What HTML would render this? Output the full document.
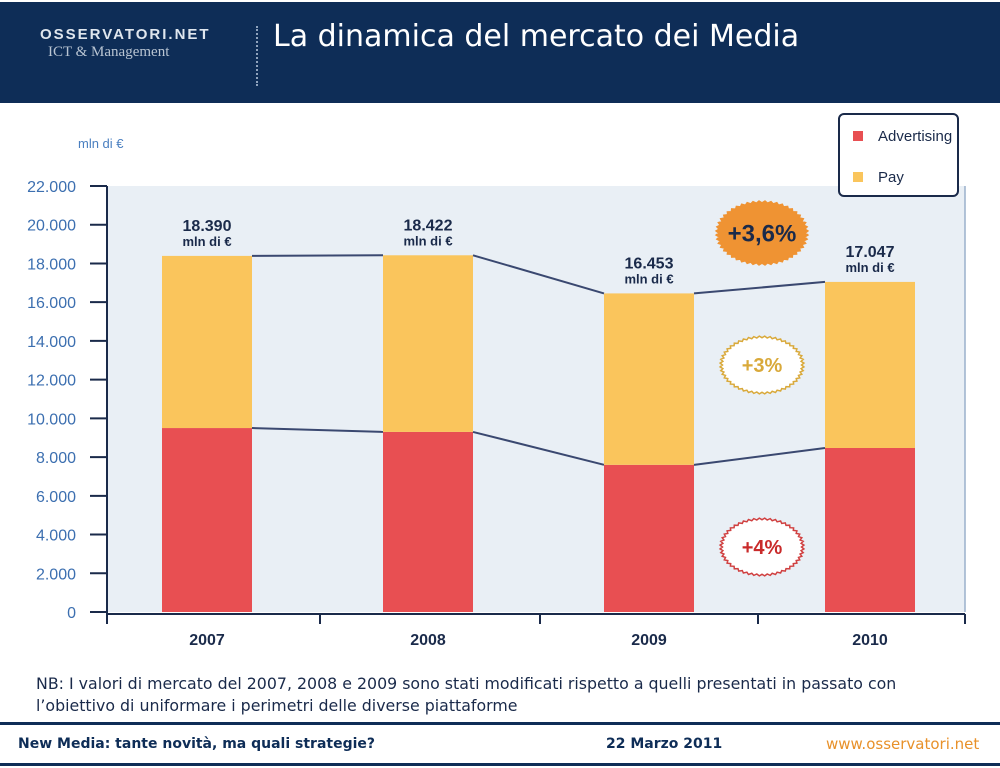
<!DOCTYPE html>
<html><head><meta charset="utf-8"><style>
body{margin:0;width:1000px;height:768px;background:#fff;font-family:"Liberation Sans",sans-serif;overflow:hidden;position:relative}
.abs{position:absolute}
</style></head><body>
<div class="abs" style="left:0;top:2px;width:1000px;height:101px;background:#0e2d57"></div>
<div class="abs" style="left:40px;top:26px;color:#dfe6ee;font-size:15px;letter-spacing:2px;font-weight:bold">OSSERVATORI.NET</div>
<div class="abs" style="left:48px;top:44px;color:#b8c4d2;font-family:'Liberation Serif',serif;font-size:15px">ICT &amp; Management</div>
<div class="abs" style="left:256px;top:26px;height:60px;border-left:2px dotted #8fa3bd"></div>
<div class="abs" style="left:273px;top:19px;color:#fff;font-family:'DejaVu Sans',sans-serif;font-size:30px">La dinamica del mercato dei Media</div>
<svg class="abs" style="left:0;top:0" width="1000" height="768" id="chart"></svg>
<div class="abs" style="left:36px;top:673px;font-family:'DejaVu Sans',sans-serif;font-size:15.8px;color:#1a2a4a;line-height:22px;white-space:nowrap">NB: I valori di mercato del 2007, 2008 e 2009 sono stati modificati rispetto a quelli presentati in passato con<br>l’obiettivo di uniformare i perimetri delle diverse piattaforme</div>
<div class="abs" style="left:0;top:722px;width:1000px;height:3px;background:#0e2d57"></div>
<div class="abs" style="left:18px;top:736px;font-family:'DejaVu Sans',sans-serif;font-size:14px;font-weight:bold;color:#0e2d57;white-space:nowrap">New Media: tante novità, ma quali strategie?</div>
<div class="abs" style="left:606px;top:736px;font-family:'DejaVu Sans',sans-serif;font-size:14px;font-weight:bold;color:#0e2d57">22 Marzo 2011</div>
<div class="abs" style="left:826px;top:735px;font-family:'DejaVu Sans',sans-serif;font-size:15px;color:#e8912a">www.osservatori.net</div>
<div class="abs" style="left:0;top:763px;width:1000px;height:3px;background:#0e2d57"></div>
<script>
const categories=["2007","2008","2009","2010"];
const advertising=[9500,9300,7600,8470];
const pay=[8890,9122,8853,8577];
const totalLabels=["18.390","18.422","16.453","17.047"];
const yTicks=[0,2000,4000,6000,8000,10000,12000,14000,16000,18000,20000,22000];
const NS="http://www.w3.org/2000/svg";
const svg=document.getElementById('chart');
const y0=612,pxPer=426/22000;
const Y=v=>y0-v*pxPer;
const X=i=>207+i*221;
function mk(t,a,p){const e=document.createElementNS(NS,t);for(const k in a)e.setAttribute(k,a[k]);(p||svg).appendChild(e);return e;}
let e;
e=mk('rect',{x:107,y:186,width:858,height:426,fill:'#e9eff5'});

mk('line',{x1:965,y1:186,x2:965,y2:612,stroke:'#9ab0cc','stroke-width':1.5});
e=mk('text',{x:78,y:148,fill:'#4a7fc0','font-size':13});e.textContent='mln di €';

yTicks.forEach(v=>{
 e=mk('text',{x:76,y:Y(v)+6,'text-anchor':'end',fill:'#3c6fb0','font-size':16});e.textContent=v===0?'0':v.toLocaleString('de-DE');
 
 mk('line',{x1:90,x2:107,y1:Y(v),y2:Y(v),stroke:'#1a2a4a','stroke-width':2});
});
mk('line',{x1:107,y1:186,x2:107,y2:614,stroke:'#1a2a4a','stroke-width':2});
mk('line',{x1:107,y1:614,x2:965,y2:614,stroke:'#1a2a4a','stroke-width':2});
[107,320,540,758,965].forEach(x=>mk('line',{x1:x,x2:x,y1:614,y2:624,stroke:'#1a2a4a','stroke-width':2}));
const bw=90;
categories.forEach((c,i)=>{
 const cx=X(i);
 e=mk('rect',{x:cx-bw/2,y:Y(advertising[i]),width:bw,height:Y(0)-Y(advertising[i]),fill:'#e84f52'});
 
 const t=advertising[i]+pay[i];
 e=mk('rect',{x:cx-bw/2,y:Y(t),width:bw,height:Y(advertising[i])-Y(t),fill:'#fac55c'});
 
 e=mk('text',{x:cx,y:645,'text-anchor':'middle','font-weight':'bold','font-size':16,fill:'#1a2a4a'});e.textContent=c;
 
 e=mk('text',{x:cx,y:Y(t)-25,'text-anchor':'middle','font-weight':'bold','font-size':16,fill:'#1a2a4a'});e.textContent=totalLabels[i];
 
 e=mk('text',{x:cx,y:Y(t)-10,'text-anchor':'middle','font-weight':'bold','font-size':13,fill:'#1a2a4a'});e.textContent='mln di €';
 if(i<3){
  const t2=advertising[i+1]+pay[i+1];
  mk('line',{x1:cx+bw/2,y1:Y(t),x2:X(i+1)-bw/2,y2:Y(t2),stroke:'#3a4870','stroke-width':2});
  mk('line',{x1:cx+bw/2,y1:Y(advertising[i]),x2:X(i+1)-bw/2,y2:Y(advertising[i+1]),stroke:'#3a4870','stroke-width':2});
 }
});
function badge(cx,cy,rx,ry,fill,stroke,txt,col,fs,name){
 let d='';const n=48;
 for(let k=0;k<=n*2;k++){const a=k/(n*2)*Math.PI*2;const r=k%2?1:0.94;d+=(k?'L':'M')+(cx+rx*r*Math.cos(a)).toFixed(1)+','+(cy+ry*r*Math.sin(a)).toFixed(1);}
 const p=mk('path',{d:d+'Z',fill:fill,stroke:stroke,'stroke-width':1.5});
 
 const t=mk('text',{x:cx,y:cy+fs*0.35,'text-anchor':'middle','font-weight':'bold','font-size':fs,fill:col});t.textContent=txt;
}
badge(762,233,46,32,'#ef9333','#ef9333','+3,6%','#1a2a4a',24,'badge-total-growth');
badge(762,365,42,29,'#fff','#d9a93a','+3%','#d9a93a',20,'badge-pay-growth');
badge(762,547,42,29,'#fff','#d04040','+4%','#c92a2a',20,'badge-adv-growth');
e=mk('rect',{x:839,y:114,width:119,height:82,rx:5,fill:'#fff',stroke:'#1a2a4a','stroke-width':2});

mk('rect',{x:853,y:131,width:10,height:10,fill:'#e84f52'});
e=mk('text',{x:878,y:141,'font-size':15,fill:'#1a2a4a'});e.textContent='Advertising';

mk('rect',{x:853,y:172,width:10,height:10,fill:'#fac55c'});
e=mk('text',{x:878,y:182,'font-size':15,fill:'#1a2a4a'});e.textContent='Pay';

</script>
</body></html>
